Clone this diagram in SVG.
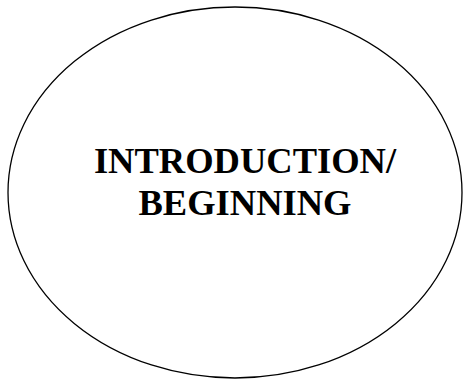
<svg xmlns="http://www.w3.org/2000/svg" width="464" height="379" viewBox="0 0 464 379">
<style>
.node{fill:#fff;stroke:#000;stroke-width:1.3}
.lbl{font-family:"Liberation Serif","Times New Roman",serif;font-weight:bold;font-size:36.5px;fill:#000;text-anchor:middle}
</style>
<rect width="464" height="379" fill="#fff"/>
<g id="connectors"></g>
<g id="node-intro">
<ellipse class="node" cx="235" cy="192.5" rx="227" ry="185.5"/>
<text class="lbl" x="245" y="173">INTRODUCTION/</text>
<text class="lbl" x="245" y="215">BEGINNING</text>
</g>
</svg>
